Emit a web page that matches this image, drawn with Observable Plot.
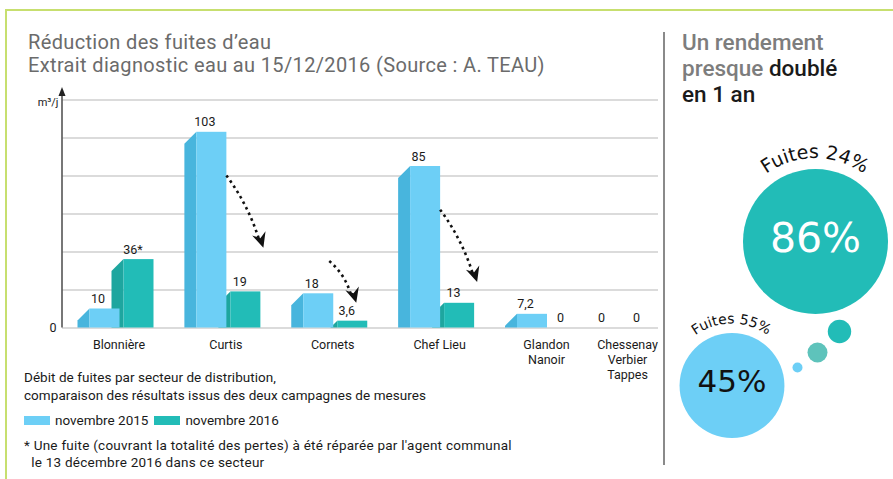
<!DOCTYPE html>
<html><head><meta charset="utf-8">
<script src="https://cdn.jsdelivr.net/npm/d3@7"></script>
<script src="https://cdn.jsdelivr.net/npm/@observablehq/plot@0.6"></script>
<style>
html,body{margin:0;padding:0;background:#fff;}
#root{position:relative;width:893px;height:479px;overflow:hidden;background:#fff;font-family:Roboto,"Open Sans",sans-serif;color:#1a1a1a;}
.abs{position:absolute;}
#frame{left:5px;top:9px;width:900px;height:480px;border-top:2px solid #c7df6f;border-left:2px solid #c7df6f;}
#title{left:28px;top:31px;font-size:20px;letter-spacing:0.35px;line-height:23px;color:#6b6b6b;white-space:nowrap;}
#divider{left:663px;top:32px;width:1.5px;height:433px;background:#8a8a8a;}
#heading{left:682px;top:29px;font-size:22.5px;line-height:26px;color:#7d7d7d;font-weight:500;white-space:nowrap;}
#heading b{color:#1a1a1a;font-weight:500;}
#caption{left:24px;top:368px;font-size:13.5px;letter-spacing:0.05px;line-height:18px;color:#1a1a1a;white-space:nowrap;}
#legend{left:24px;top:411px;font-size:13.5px;line-height:18px;white-space:nowrap;display:flex;align-items:center;}
#legend .sw{display:inline-block;width:26px;height:9px;margin-right:5px;}
#legend .item{display:flex;align-items:center;margin-right:6px;}
#note{left:24px;top:437px;font-size:13.5px;letter-spacing:0.25px;line-height:17px;white-space:nowrap;}
#chart{left:0;top:0;}
#bubbles{left:664px;top:0;width:229px;height:479px;}
svg{overflow:visible;}
</style></head>
<body><div id="root">
<div id="frame" class="abs"></div>
<div id="title" class="abs"></div>
<div id="divider" class="abs"></div>
<div id="heading" class="abs"></div>
<div id="chart" class="abs"></div>
<div id="caption" class="abs"></div>
<div id="legend" class="abs"></div>
<div id="note" class="abs"></div>
<div id="bubbles" class="abs"></div>
</div>
<script>
// ---------- data ----------
const categories = ["Blonnière", "Curtis", "Cornets", "Chef Lieu", "Glandon\nNanoir", "Chessenay\nVerbier\nTappes"];
const values2015 = [10, 103, 18, 85, 7.2, 0];
const values2016 = [36, 19, 3.6, 13, 0, 0];
const notes2016 = ["*", "", "", "", "", ""];
const seriesNames = ["novembre 2015", "novembre 2016"];
const gridTicks = [0, 20, 40, 60, 80, 100, 120];
const unitLabel = "m³/j";
// dotted arrows: from value (2015 side) to value (2016 side)
const arrowCats = ["Curtis", "Cornets", "Chef Lieu"];
const arrowFrom = [80, 35, 62];
const arrowTo = [42, 13, 24];

const titleLines = ["Réduction des fuites d’eau", "Extrait diagnostic eau au 15/12/2016 (Source : A. TEAU)"];
const captionLines = ["Débit de fuites par secteur de distribution,", "comparaison des résultats issus des deux campagnes de mesures"];
const noteLines = ["* Une fuite (couvrant la totalité des pertes) à été réparée par l'agent communal", "le 13 décembre 2016 dans ce secteur"];

const rendementValues = [86, 45];   // 2016, 2015
const fuitesValues = [24, 55];      // 2016, 2015

// ---------- styles / layout ----------
const colFront = ["#6dcff6", "#22bcb7"];
const colSide = ["#48b5dd", "#1ea69f"];
const DEPTH = 12;
const fmt = v => String(v).replace(".", ",");
// category slots along x (the last sector is squeezed in the original)
const slotDomain = [0, 4, 5];
const slotRange = [121.5, 549, 625];

document.getElementById("title").innerHTML = titleLines.join("<br>");
document.getElementById("heading").innerHTML = "Un rendement<br>presque <b>doublé</b><br><b>en 1 an</b>";
document.getElementById("caption").innerHTML = captionLines.join("<br>");
document.getElementById("note").innerHTML = noteLines[0] + "<br>&nbsp;&nbsp;" + noteLines[1];
document.getElementById("legend").innerHTML = seriesNames.map((s, i) =>
  `<span class="item"><span class="sw" style="background:${colFront[i]}"></span>${s}</span>`).join("");

const rows2015 = categories.map((c, i) => ({category: c, slot: i, value: values2015[i], label: fmt(values2015[i])}));
const rows2016 = categories.map((c, i) => ({category: c, slot: i, value: values2016[i], label: fmt(values2016[i]) + notes2016[i]}));
const arrows = arrowCats.map((c, i) => ({slot: categories.indexOf(c), from: arrowFrom[i], to: arrowTo[i]}));
const catRows = categories.map((c, i) => ({category: c, slot: i}));
const lastSlot = categories.length - 1;

function sideFaces(rows, fill, frontOffset) {
  return (index, scales) => {
    const x = scales.x, y = scales.y;
    const base = y(0);
    const g = d3.create("svg:g").attr("fill", fill);
    for (const d of rows) {
      if (!(d.value > 0)) continue;
      const x0 = x(d.slot) + frontOffset;
      const top = y(d.value);
      const dd = Math.min(DEPTH, base - top);
      g.append("polygon").attr("points",
        [[x0, base], [x0, top], [x0 - dd, top + dd], [x0 - dd, base]].map(p => p.join(",")).join(" "));
    }
    return g.node();
  };
}

function dottedArrows(data) {
  return (index, scales) => {
    const x = scales.x, y = scales.y;
    const g = d3.create("svg:g");
    for (const d of data) {
      const c = x(d.slot);
      const short = d.from - d.to < 30;
      const x1 = c + (short ? -6 : -2), y1 = y(d.from);
      const x2 = c + (short ? 21 : 35), y2 = y(d.to);
      const dx = x2 - x1, dy = y2 - y1, L = Math.hypot(dx, dy);
      const ux = dx / L, uy = dy / L, px = -uy, py = ux;
      const headL = 15, notch = 10, hw = 7;
      const ex = x2 - ux * notch, ey = y2 - uy * notch;
      const mx = (x1 + ex) / 2 - px * 6, my = (y1 + ey) / 2 - py * 6;
      g.append("path").attr("d", `M${x1},${y1}Q${mx},${my} ${ex},${ey}`)
        .attr("fill", "none").attr("stroke", "#111").attr("stroke-width", 2.6)
        .attr("stroke-dasharray", "2.6,3.6");
      let tx = ex - mx, ty = ey - my; const tl = Math.hypot(tx, ty); tx /= tl; ty /= tl;
      const qx = -ty, qy = tx;
      const bx = x2 - tx * headL, by = y2 - ty * headL;
      g.append("polygon").attr("fill", "#111").attr("points", [
        [x2, y2], [bx + qx * hw, by + qy * hw], [x2 - tx * notch, y2 - ty * notch], [bx - qx * hw, by - qy * hw]
      ].map(p => p.join(",")).join(" "));
    }
    return g.node();
  };
}

function yAxisLine() {
  return (index, scales, values, dims) => {
    const y = scales.y, x0 = dims.marginLeft;
    const g = d3.create("svg:g");
    const tip = y(126);
    g.append("line").attr("x1", x0).attr("x2", x0).attr("y1", y(0)).attr("y2", tip + 2)
      .attr("stroke", "#555").attr("stroke-width", 1.6);
    g.append("polygon").attr("fill", "#222")
      .attr("points", `${x0},${tip - 1} ${x0 - 3.5},${tip + 8} ${x0 + 3.5},${tip + 8}`);
    return g.node();
  };
}

// front faces: 30px wide, light on the left of the slot centre, teal on the right
const front = (rows, fill, left, right) =>
  Plot.rectY(rows.filter(d => d.value > 0), {x1: "slot", x2: "slot", y1: 0, y2: "value", fill, insetLeft: -left, insetRight: right});

const catLabelStyle = {x: "slot", text: "category", frameAnchor: "bottom", lineAnchor: "top", dy: 10, fontSize: 12.5, lineHeight: 1.2, fill: "#1a1a1a"};

const chart = Plot.plot({
  width: 680,
  height: 390,
  marginLeft: 62,
  marginRight: 22,
  marginTop: 88,
  marginBottom: 62.5,
  x: {type: "linear", domain: slotDomain, range: slotRange, axis: null},
  y: {domain: [0, 120], range: [327.5, 99.5], axis: null},
  style: {fontFamily: "Roboto, sans-serif", fontSize: "12px", color: "#1a1a1a", background: "transparent", overflow: "visible"},
  marks: [
    Plot.ruleY(gridTicks, {stroke: "#cfcfcf", strokeWidth: 1.6}),
    sideFaces(rows2016, colSide[1], 2),
    front(rows2016, colFront[1], -2, -32),
    sideFaces(rows2015, colSide[0], -32),
    front(rows2015, colFront[0], 32, 2),
    Plot.text(rows2015, {x: "slot", y: "value", text: "label", dx: -24, dy: -10, fontSize: 12.5, fill: "#1a1a1a"}),
    Plot.text(rows2016, {x: "slot", y: "value", text: "label", dx: 11, dy: -10, fontSize: 12.5, fill: "#1a1a1a"}),
    Plot.text(catRows.filter(d => d.slot !== lastSlot), {...catLabelStyle, dx: -3}),
    Plot.text(catRows.filter(d => d.slot === lastSlot), {...catLabelStyle, dx: 2}),
    Plot.text([0], {y: d => d, frameAnchor: "left", textAnchor: "end", dx: -6, text: d => String(d), fontSize: 12.5, fill: "#1a1a1a"}),
    Plot.text([unitLabel], {frameAnchor: "top-left", textAnchor: "end", dx: -4, dy: 10, text: d => d, fontSize: 11, fill: "#1a1a1a"}),
    dottedArrows(arrows),
    yAxisLine()
  ]
});
document.getElementById("chart").appendChild(chart);

// ---------- bubbles ----------
const bubbleLayout = [
  {cx: 151, cy: 241, fill: colFront[1], text: "#ffffff", labelSize: 19, gap: 10.5},
  {cx: 67.5, cy: 385, fill: colFront[0], text: "#111111", labelSize: 14, gap: 9}
];
const bubbles = rendementValues.map((v, i) => ({value: v, fuites: fuitesValues[i], ...bubbleLayout[i]}));
const dotsLayout = [
  {cx: 175, cy: 331, r: 11.7, fill: "#22bcb7"},
  {cx: 153, cy: 352, r: 10, fill: "#5ec3bb"},
  {cx: 133, cy: 367, r: 5, fill: "#6dcff6"}
];

function arcLabels(data) {
  return (index, scales) => {
    const g = d3.create("svg:g");
    data.forEach((d, i) => {
      const cx = scales.x(d.cx), cy = scales.y(d.cy), R = scales.r(d.value) + d.gap;
      const id = "arc" + i;
      g.append("path").attr("id", id).attr("fill", "none")
        .attr("d", `M${cx - R},${cy} A${R},${R} 0 0,1 ${cx + R},${cy}`);
      g.append("text").attr("font-family", "DejaVu Sans, sans-serif").attr("font-size", d.labelSize)
        .attr("fill", "#111")
        .append("textPath").attr("href", "#" + id).attr("startOffset", "50%").attr("text-anchor", "middle")
        .text(`Fuites ${d.fuites}%`);
    });
    return g.node();
  };
}

const bubblePlot = Plot.plot({
  width: 229, height: 479, margin: 0,
  x: {type: "identity", axis: null}, y: {type: "identity", axis: null},
  r: {type: "sqrt", domain: [0, 86], range: [0, 72.5]},
  color: {type: "identity"},
  style: {background: "transparent", overflow: "visible"},
  marks: [
    Plot.dot(bubbles, {x: "cx", y: "cy", r: "value", fill: "fill"}),
    Plot.text(bubbles.slice(0, 1), {x: "cx", y: "cy", dy: -3, text: d => d.value + "%", fill: "text", fontSize: 41, fontFamily: "DejaVu Sans, sans-serif", letterSpacing: 4}),
    Plot.text(bubbles.slice(1), {x: "cx", y: "cy", dy: -3, text: d => d.value + "%", fill: "text", fontSize: 31, fontFamily: "DejaVu Sans, sans-serif", letterSpacing: 1}),
    ...dotsLayout.map(d => Plot.dot([d], {x: "cx", y: "cy", r: d.r, fill: "fill"})),
    arcLabels(bubbles)
  ]
});
document.getElementById("bubbles").appendChild(bubblePlot);
</script>
</body></html>
